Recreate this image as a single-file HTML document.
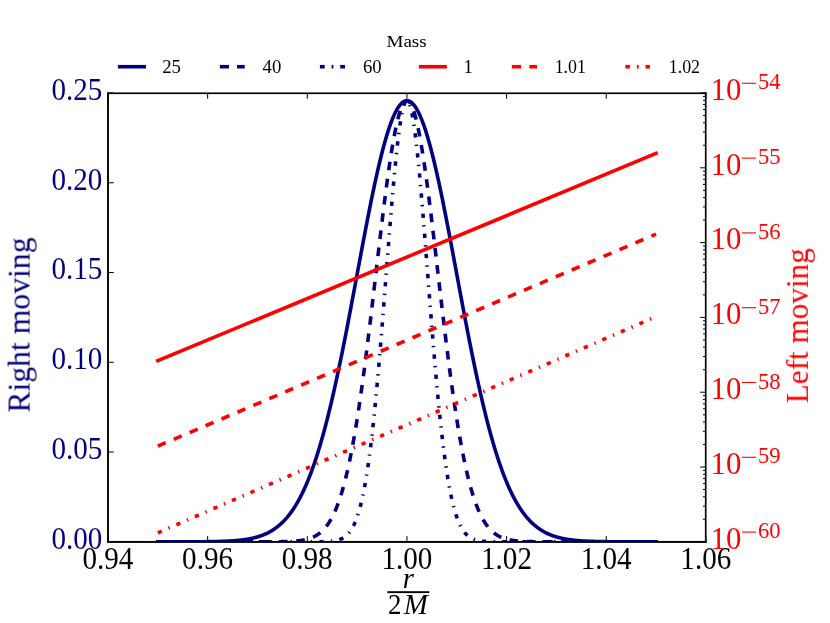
<!DOCTYPE html>
<html>
<head>
<meta charset="utf-8">
<title>Mass plot</title>
<style>
html,body{margin:0;padding:0;background:#ffffff;}
body{width:830px;height:623px;overflow:hidden;font-family:"Liberation Serif",serif;}
svg{display:block;}
</style>
</head>
<body>
<svg width="830" height="623" viewBox="0 0 830 623">
<rect x="0" y="0" width="830" height="623" fill="#ffffff"/>
<defs><clipPath id="axclip"><rect x="108.00" y="93.00" width="597.90" height="448.80"/></clipPath></defs>
<g clip-path="url(#axclip)" fill="none" stroke-linejoin="round">
<path d="M157.83,541.80 L158.32,541.80 L158.82,541.80 L159.32,541.80 L159.82,541.80 L160.32,541.80 L160.81,541.80 L161.31,541.80 L161.81,541.80 L162.31,541.80 L162.81,541.80 L163.31,541.80 L163.80,541.80 L164.30,541.80 L164.80,541.80 L165.30,541.80 L165.80,541.80 L166.30,541.80 L166.79,541.80 L167.29,541.80 L167.79,541.80 L168.29,541.80 L168.79,541.80 L169.28,541.79 L169.78,541.79 L170.28,541.79 L170.78,541.79 L171.28,541.79 L171.78,541.79 L172.27,541.79 L172.77,541.79 L173.27,541.79 L173.77,541.79 L174.27,541.79 L174.77,541.79 L175.26,541.79 L175.76,541.79 L176.26,541.79 L176.76,541.79 L177.26,541.79 L177.76,541.79 L178.25,541.79 L178.75,541.79 L179.25,541.79 L179.75,541.79 L180.25,541.79 L180.74,541.79 L181.24,541.78 L181.74,541.78 L182.24,541.78 L182.74,541.78 L183.24,541.78 L183.73,541.78 L184.23,541.78 L184.73,541.78 L185.23,541.78 L185.73,541.78 L186.23,541.78 L186.72,541.77 L187.22,541.77 L187.72,541.77 L188.22,541.77 L188.72,541.77 L189.21,541.77 L189.71,541.77 L190.21,541.77 L190.71,541.76 L191.21,541.76 L191.71,541.76 L192.20,541.76 L192.70,541.76 L193.20,541.76 L193.70,541.75 L194.20,541.75 L194.70,541.75 L195.19,541.75 L195.69,541.74 L196.19,541.74 L196.69,541.74 L197.19,541.74 L197.69,541.73 L198.18,541.73 L198.68,541.73 L199.18,541.73 L199.68,541.72 L200.18,541.72 L200.67,541.72 L201.17,541.71 L201.67,541.71 L202.17,541.71 L202.67,541.70 L203.17,541.70 L203.66,541.69 L204.16,541.69 L204.66,541.68 L205.16,541.68 L205.66,541.67 L206.16,541.67 L206.65,541.66 L207.15,541.66 L207.65,541.65 L208.15,541.65 L208.65,541.64 L209.14,541.63 L209.64,541.63 L210.14,541.62 L210.64,541.61 L211.14,541.60 L211.64,541.60 L212.13,541.59 L212.63,541.58 L213.13,541.57 L213.63,541.56 L214.13,541.55 L214.63,541.54 L215.12,541.53 L215.62,541.52 L216.12,541.51 L216.62,541.50 L217.12,541.49 L217.62,541.48 L218.11,541.46 L218.61,541.45 L219.11,541.44 L219.61,541.42 L220.11,541.41 L220.60,541.40 L221.10,541.38 L221.60,541.36 L222.10,541.35 L222.60,541.33 L223.10,541.31 L223.59,541.29 L224.09,541.28 L224.59,541.26 L225.09,541.24 L225.59,541.21 L226.09,541.19 L226.58,541.17 L227.08,541.15 L227.58,541.12 L228.08,541.10 L228.58,541.07 L229.07,541.05 L229.57,541.02 L230.07,540.99 L230.57,540.96 L231.07,540.93 L231.57,540.90 L232.06,540.87 L232.56,540.84 L233.06,540.80 L233.56,540.77 L234.06,540.73 L234.56,540.69 L235.05,540.65 L235.55,540.61 L236.05,540.57 L236.55,540.53 L237.05,540.48 L237.55,540.44 L238.04,540.39 L238.54,540.34 L239.04,540.29 L239.54,540.24 L240.04,540.19 L240.53,540.13 L241.03,540.08 L241.53,540.02 L242.03,539.96 L242.53,539.90 L243.03,539.83 L243.52,539.77 L244.02,539.70 L244.52,539.63 L245.02,539.56 L245.52,539.48 L246.02,539.41 L246.51,539.33 L247.01,539.25 L247.51,539.16 L248.01,539.08 L248.51,538.99 L249.00,538.90 L249.50,538.81 L250.00,538.71 L250.50,538.61 L251.00,538.51 L251.50,538.41 L251.99,538.30 L252.49,538.19 L252.99,538.07 L253.49,537.96 L253.99,537.84 L254.49,537.71 L254.98,537.59 L255.48,537.46 L255.98,537.32 L256.48,537.19 L256.98,537.04 L257.48,536.90 L257.97,536.75 L258.47,536.60 L258.97,536.44 L259.47,536.28 L259.97,536.11 L260.46,535.94 L260.96,535.77 L261.46,535.59 L261.96,535.41 L262.46,535.22 L262.96,535.03 L263.45,534.83 L263.95,534.62 L264.45,534.41 L264.95,534.20 L265.45,533.98 L265.95,533.76 L266.44,533.53 L266.94,533.29 L267.44,533.05 L267.94,532.80 L268.44,532.55 L268.93,532.29 L269.43,532.02 L269.93,531.75 L270.43,531.47 L270.93,531.18 L271.43,530.89 L271.92,530.59 L272.42,530.28 L272.92,529.96 L273.42,529.64 L273.92,529.31 L274.42,528.97 L274.91,528.63 L275.41,528.28 L275.91,527.91 L276.41,527.55 L276.91,527.17 L277.41,526.78 L277.90,526.39 L278.40,525.98 L278.90,525.57 L279.40,525.15 L279.90,524.72 L280.39,524.28 L280.89,523.83 L281.39,523.37 L281.89,522.90 L282.39,522.42 L282.89,521.93 L283.38,521.43 L283.88,520.92 L284.38,520.40 L284.88,519.87 L285.38,519.32 L285.88,518.77 L286.37,518.20 L286.87,517.63 L287.37,517.04 L287.87,516.44 L288.37,515.83 L288.86,515.20 L289.36,514.57 L289.86,513.92 L290.36,513.26 L290.86,512.58 L291.36,511.89 L291.85,511.19 L292.35,510.48 L292.85,509.75 L293.35,509.01 L293.85,508.26 L294.35,507.49 L294.84,506.71 L295.34,505.91 L295.84,505.10 L296.34,504.27 L296.84,503.43 L297.34,502.58 L297.83,501.71 L298.33,500.82 L298.83,499.92 L299.33,499.00 L299.83,498.07 L300.32,497.12 L300.82,496.16 L301.32,495.18 L301.82,494.18 L302.32,493.17 L302.82,492.14 L303.31,491.09 L303.81,490.03 L304.31,488.95 L304.81,487.85 L305.31,486.74 L305.81,485.61 L306.30,484.46 L306.80,483.29 L307.30,482.10 L307.80,480.90 L308.30,479.68 L308.79,478.44 L309.29,477.18 L309.79,475.91 L310.29,474.61 L310.79,473.30 L311.29,471.97 L311.78,470.62 L312.28,469.25 L312.78,467.86 L313.28,466.46 L313.78,465.03 L314.28,463.58 L314.77,462.12 L315.27,460.64 L315.77,459.13 L316.27,457.61 L316.77,456.07 L317.27,454.51 L317.76,452.93 L318.26,451.33 L318.76,449.70 L319.26,448.07 L319.76,446.41 L320.25,444.73 L320.75,443.03 L321.25,441.31 L321.75,439.57 L322.25,437.81 L322.75,436.03 L323.24,434.24 L323.74,432.42 L324.24,430.58 L324.74,428.73 L325.24,426.85 L325.74,424.96 L326.23,423.04 L326.73,421.11 L327.23,419.16 L327.73,417.19 L328.23,415.20 L328.72,413.19 L329.22,411.16 L329.72,409.11 L330.22,407.04 L330.72,404.96 L331.22,402.86 L331.71,400.73 L332.21,398.60 L332.71,396.44 L333.21,394.26 L333.71,392.07 L334.21,389.86 L334.70,387.64 L335.20,385.39 L335.70,383.13 L336.20,380.85 L336.70,378.56 L337.20,376.25 L337.69,373.92 L338.19,371.58 L338.69,369.23 L339.19,366.86 L339.69,364.47 L340.18,362.07 L340.68,359.65 L341.18,357.22 L341.68,354.78 L342.18,352.32 L342.68,349.85 L343.17,347.37 L343.67,344.88 L344.17,342.37 L344.67,339.85 L345.17,337.32 L345.67,334.78 L346.16,332.23 L346.66,329.67 L347.16,327.09 L347.66,324.51 L348.16,321.92 L348.65,319.32 L349.15,316.72 L349.65,314.10 L350.15,311.48 L350.65,308.85 L351.15,306.22 L351.64,303.57 L352.14,300.93 L352.64,298.27 L353.14,295.62 L353.64,292.96 L354.14,290.29 L354.63,287.63 L355.13,284.96 L355.63,282.28 L356.13,279.61 L356.63,276.93 L357.13,274.26 L357.62,271.58 L358.12,268.91 L358.62,266.24 L359.12,263.56 L359.62,260.89 L360.11,258.23 L360.61,255.56 L361.11,252.90 L361.61,250.25 L362.11,247.60 L362.61,244.95 L363.10,242.31 L363.60,239.68 L364.10,237.06 L364.60,234.44 L365.10,231.83 L365.60,229.23 L366.09,226.64 L366.59,224.06 L367.09,221.50 L367.59,218.94 L368.09,216.39 L368.58,213.86 L369.08,211.34 L369.58,208.84 L370.08,206.35 L370.58,203.88 L371.08,201.42 L371.57,198.97 L372.07,196.55 L372.57,194.14 L373.07,191.75 L373.57,189.38 L374.07,187.03 L374.56,184.70 L375.06,182.39 L375.56,180.10 L376.06,177.83 L376.56,175.58 L377.06,173.36 L377.55,171.16 L378.05,168.99 L378.55,166.84 L379.05,164.71 L379.55,162.62 L380.04,160.54 L380.54,158.50 L381.04,156.48 L381.54,154.49 L382.04,152.53 L382.54,150.60 L383.03,148.70 L383.53,146.83 L384.03,144.98 L384.53,143.17 L385.03,141.40 L385.53,139.65 L386.02,137.94 L386.52,136.26 L387.02,134.61 L387.52,133.00 L388.02,131.42 L388.51,129.88 L389.01,128.38 L389.51,126.91 L390.01,125.47 L390.51,124.08 L391.01,122.72 L391.50,121.39 L392.00,120.11 L392.50,118.86 L393.00,117.66 L393.50,116.49 L394.00,115.36 L394.49,114.27 L394.99,113.22 L395.49,112.21 L395.99,111.25 L396.49,110.32 L396.99,109.43 L397.48,108.59 L397.98,107.79 L398.48,107.03 L398.98,106.31 L399.48,105.63 L399.97,105.00 L400.47,104.41 L400.97,103.86 L401.47,103.36 L401.97,102.90 L402.47,102.48 L402.96,102.11 L403.46,101.78 L403.96,101.49 L404.46,101.25 L404.96,101.05 L405.46,100.90 L405.95,100.79 L406.45,100.72 L406.95,100.70 L407.45,100.72 L407.95,100.79 L408.44,100.90 L408.94,101.05 L409.44,101.25 L409.94,101.49 L410.44,101.78 L410.94,102.11 L411.43,102.48 L411.93,102.90 L412.43,103.36 L412.93,103.86 L413.43,104.41 L413.93,105.00 L414.42,105.63 L414.92,106.31 L415.42,107.03 L415.92,107.79 L416.42,108.59 L416.92,109.43 L417.41,110.32 L417.91,111.25 L418.41,112.21 L418.91,113.22 L419.41,114.27 L419.90,115.36 L420.40,116.49 L420.90,117.66 L421.40,118.86 L421.90,120.11 L422.40,121.39 L422.89,122.72 L423.39,124.08 L423.89,125.47 L424.39,126.91 L424.89,128.38 L425.39,129.88 L425.88,131.42 L426.38,133.00 L426.88,134.61 L427.38,136.26 L427.88,137.94 L428.37,139.65 L428.87,141.40 L429.37,143.17 L429.87,144.98 L430.37,146.83 L430.87,148.70 L431.36,150.60 L431.86,152.53 L432.36,154.49 L432.86,156.48 L433.36,158.50 L433.86,160.54 L434.35,162.62 L434.85,164.71 L435.35,166.84 L435.85,168.99 L436.35,171.16 L436.85,173.36 L437.34,175.58 L437.84,177.83 L438.34,180.10 L438.84,182.39 L439.34,184.70 L439.83,187.03 L440.33,189.38 L440.83,191.75 L441.33,194.14 L441.83,196.55 L442.33,198.97 L442.82,201.42 L443.32,203.88 L443.82,206.35 L444.32,208.84 L444.82,211.34 L445.32,213.86 L445.81,216.39 L446.31,218.94 L446.81,221.50 L447.31,224.06 L447.81,226.64 L448.30,229.23 L448.80,231.83 L449.30,234.44 L449.80,237.06 L450.30,239.68 L450.80,242.31 L451.29,244.95 L451.79,247.60 L452.29,250.25 L452.79,252.90 L453.29,255.56 L453.79,258.23 L454.28,260.89 L454.78,263.56 L455.28,266.24 L455.78,268.91 L456.28,271.58 L456.78,274.26 L457.27,276.93 L457.77,279.61 L458.27,282.28 L458.77,284.96 L459.27,287.63 L459.76,290.29 L460.26,292.96 L460.76,295.62 L461.26,298.27 L461.76,300.93 L462.26,303.57 L462.75,306.22 L463.25,308.85 L463.75,311.48 L464.25,314.10 L464.75,316.72 L465.25,319.32 L465.74,321.92 L466.24,324.51 L466.74,327.09 L467.24,329.67 L467.74,332.23 L468.23,334.78 L468.73,337.32 L469.23,339.85 L469.73,342.37 L470.23,344.88 L470.73,347.37 L471.22,349.85 L471.72,352.32 L472.22,354.78 L472.72,357.22 L473.22,359.65 L473.72,362.07 L474.21,364.47 L474.71,366.86 L475.21,369.23 L475.71,371.58 L476.21,373.92 L476.71,376.25 L477.20,378.56 L477.70,380.85 L478.20,383.13 L478.70,385.39 L479.20,387.64 L479.69,389.86 L480.19,392.07 L480.69,394.26 L481.19,396.44 L481.69,398.60 L482.19,400.73 L482.68,402.86 L483.18,404.96 L483.68,407.04 L484.18,409.11 L484.68,411.16 L485.18,413.19 L485.67,415.20 L486.17,417.19 L486.67,419.16 L487.17,421.11 L487.67,423.04 L488.16,424.96 L488.66,426.85 L489.16,428.73 L489.66,430.58 L490.16,432.42 L490.66,434.24 L491.15,436.03 L491.65,437.81 L492.15,439.57 L492.65,441.31 L493.15,443.03 L493.65,444.73 L494.14,446.41 L494.64,448.07 L495.14,449.70 L495.64,451.33 L496.14,452.93 L496.64,454.51 L497.13,456.07 L497.63,457.61 L498.13,459.13 L498.63,460.64 L499.13,462.12 L499.62,463.58 L500.12,465.03 L500.62,466.46 L501.12,467.86 L501.62,469.25 L502.12,470.62 L502.61,471.97 L503.11,473.30 L503.61,474.61 L504.11,475.91 L504.61,477.18 L505.11,478.44 L505.60,479.68 L506.10,480.90 L506.60,482.10 L507.10,483.29 L507.60,484.46 L508.09,485.61 L508.59,486.74 L509.09,487.85 L509.59,488.95 L510.09,490.03 L510.59,491.09 L511.08,492.14 L511.58,493.17 L512.08,494.18 L512.58,495.18 L513.08,496.16 L513.58,497.12 L514.07,498.07 L514.57,499.00 L515.07,499.92 L515.57,500.82 L516.07,501.71 L516.57,502.58 L517.06,503.43 L517.56,504.27 L518.06,505.10 L518.56,505.91 L519.06,506.71 L519.55,507.49 L520.05,508.26 L520.55,509.01 L521.05,509.75 L521.55,510.48 L522.05,511.19 L522.54,511.89 L523.04,512.58 L523.54,513.26 L524.04,513.92 L524.54,514.57 L525.04,515.20 L525.53,515.83 L526.03,516.44 L526.53,517.04 L527.03,517.63 L527.53,518.20 L528.02,518.77 L528.52,519.32 L529.02,519.87 L529.52,520.40 L530.02,520.92 L530.52,521.43 L531.01,521.93 L531.51,522.42 L532.01,522.90 L532.51,523.37 L533.01,523.83 L533.51,524.28 L534.00,524.72 L534.50,525.15 L535.00,525.57 L535.50,525.98 L536.00,526.39 L536.50,526.78 L536.99,527.17 L537.49,527.55 L537.99,527.91 L538.49,528.28 L538.99,528.63 L539.48,528.97 L539.98,529.31 L540.48,529.64 L540.98,529.96 L541.48,530.28 L541.98,530.59 L542.47,530.89 L542.97,531.18 L543.47,531.47 L543.97,531.75 L544.47,532.02 L544.97,532.29 L545.46,532.55 L545.96,532.80 L546.46,533.05 L546.96,533.29 L547.46,533.53 L547.95,533.76 L548.45,533.98 L548.95,534.20 L549.45,534.41 L549.95,534.62 L550.45,534.83 L550.94,535.03 L551.44,535.22 L551.94,535.41 L552.44,535.59 L552.94,535.77 L553.44,535.94 L553.93,536.11 L554.43,536.28 L554.93,536.44 L555.43,536.60 L555.93,536.75 L556.43,536.90 L556.92,537.04 L557.42,537.19 L557.92,537.32 L558.42,537.46 L558.92,537.59 L559.41,537.71 L559.91,537.84 L560.41,537.96 L560.91,538.07 L561.41,538.19 L561.91,538.30 L562.40,538.41 L562.90,538.51 L563.40,538.61 L563.90,538.71 L564.40,538.81 L564.90,538.90 L565.39,538.99 L565.89,539.08 L566.39,539.16 L566.89,539.25 L567.39,539.33 L567.88,539.41 L568.38,539.48 L568.88,539.56 L569.38,539.63 L569.88,539.70 L570.38,539.77 L570.87,539.83 L571.37,539.90 L571.87,539.96 L572.37,540.02 L572.87,540.08 L573.37,540.13 L573.86,540.19 L574.36,540.24 L574.86,540.29 L575.36,540.34 L575.86,540.39 L576.36,540.44 L576.85,540.48 L577.35,540.53 L577.85,540.57 L578.35,540.61 L578.85,540.65 L579.34,540.69 L579.84,540.73 L580.34,540.77 L580.84,540.80 L581.34,540.84 L581.84,540.87 L582.33,540.90 L582.83,540.93 L583.33,540.96 L583.83,540.99 L584.33,541.02 L584.83,541.05 L585.32,541.07 L585.82,541.10 L586.32,541.12 L586.82,541.15 L587.32,541.17 L587.81,541.19 L588.31,541.21 L588.81,541.24 L589.31,541.26 L589.81,541.28 L590.31,541.29 L590.80,541.31 L591.30,541.33 L591.80,541.35 L592.30,541.36 L592.80,541.38 L593.30,541.40 L593.79,541.41 L594.29,541.42 L594.79,541.44 L595.29,541.45 L595.79,541.46 L596.29,541.48 L596.78,541.49 L597.28,541.50 L597.78,541.51 L598.28,541.52 L598.78,541.53 L599.27,541.54 L599.77,541.55 L600.27,541.56 L600.77,541.57 L601.27,541.58 L601.77,541.59 L602.26,541.60 L602.76,541.60 L603.26,541.61 L603.76,541.62 L604.26,541.63 L604.76,541.63 L605.25,541.64 L605.75,541.65 L606.25,541.65 L606.75,541.66 L607.25,541.66 L607.74,541.67 L608.24,541.67 L608.74,541.68 L609.24,541.68 L609.74,541.69 L610.24,541.69 L610.73,541.70 L611.23,541.70 L611.73,541.71 L612.23,541.71 L612.73,541.71 L613.23,541.72 L613.72,541.72 L614.22,541.72 L614.72,541.73 L615.22,541.73 L615.72,541.73 L616.22,541.73 L616.71,541.74 L617.21,541.74 L617.71,541.74 L618.21,541.74 L618.71,541.75 L619.20,541.75 L619.70,541.75 L620.20,541.75 L620.70,541.76 L621.20,541.76 L621.70,541.76 L622.19,541.76 L622.69,541.76 L623.19,541.76 L623.69,541.77 L624.19,541.77 L624.69,541.77 L625.18,541.77 L625.68,541.77 L626.18,541.77 L626.68,541.77 L627.18,541.77 L627.67,541.78 L628.17,541.78 L628.67,541.78 L629.17,541.78 L629.67,541.78 L630.17,541.78 L630.66,541.78 L631.16,541.78 L631.66,541.78 L632.16,541.78 L632.66,541.78 L633.16,541.79 L633.65,541.79 L634.15,541.79 L634.65,541.79 L635.15,541.79 L635.65,541.79 L636.15,541.79 L636.64,541.79 L637.14,541.79 L637.64,541.79 L638.14,541.79 L638.64,541.79 L639.13,541.79 L639.63,541.79 L640.13,541.79 L640.63,541.79 L641.13,541.79 L641.63,541.79 L642.12,541.79 L642.62,541.79 L643.12,541.79 L643.62,541.79 L644.12,541.79 L644.62,541.79 L645.11,541.80 L645.61,541.80 L646.11,541.80 L646.61,541.80 L647.11,541.80 L647.60,541.80 L648.10,541.80 L648.60,541.80 L649.10,541.80 L649.60,541.80 L650.10,541.80 L650.59,541.80 L651.09,541.80 L651.59,541.80 L652.09,541.80 L652.59,541.80 L653.09,541.80 L653.58,541.80 L654.08,541.80 L654.58,541.80 L655.08,541.80 L655.58,541.80 L656.08,541.80" stroke="#000080" stroke-width="3.60" stroke-linecap="square"/>
<path d="M157.83,541.80 L158.32,541.80 L158.82,541.80 L159.32,541.80 L159.82,541.80 L160.32,541.80 L160.81,541.80 L161.31,541.80 L161.81,541.80 L162.31,541.80 L162.81,541.80 L163.31,541.80 L163.80,541.80 L164.30,541.80 L164.80,541.80 L165.30,541.80 L165.80,541.80 L166.30,541.80 L166.79,541.80 L167.29,541.80 L167.79,541.80 L168.29,541.80 L168.79,541.80 L169.28,541.80 L169.78,541.80 L170.28,541.80 L170.78,541.80 L171.28,541.80 L171.78,541.80 L172.27,541.80 L172.77,541.80 L173.27,541.80 L173.77,541.80 L174.27,541.80 L174.77,541.80 L175.26,541.80 L175.76,541.80 L176.26,541.80 L176.76,541.80 L177.26,541.80 L177.76,541.80 L178.25,541.80 L178.75,541.80 L179.25,541.80 L179.75,541.80 L180.25,541.80 L180.74,541.80 L181.24,541.80 L181.74,541.80 L182.24,541.80 L182.74,541.80 L183.24,541.80 L183.73,541.80 L184.23,541.80 L184.73,541.80 L185.23,541.80 L185.73,541.80 L186.23,541.80 L186.72,541.80 L187.22,541.80 L187.72,541.80 L188.22,541.80 L188.72,541.80 L189.21,541.80 L189.71,541.80 L190.21,541.80 L190.71,541.80 L191.21,541.80 L191.71,541.80 L192.20,541.80 L192.70,541.80 L193.20,541.80 L193.70,541.80 L194.20,541.80 L194.70,541.80 L195.19,541.80 L195.69,541.80 L196.19,541.80 L196.69,541.80 L197.19,541.80 L197.69,541.80 L198.18,541.80 L198.68,541.80 L199.18,541.80 L199.68,541.80 L200.18,541.80 L200.67,541.80 L201.17,541.80 L201.67,541.80 L202.17,541.80 L202.67,541.80 L203.17,541.80 L203.66,541.80 L204.16,541.80 L204.66,541.80 L205.16,541.80 L205.66,541.80 L206.16,541.80 L206.65,541.80 L207.15,541.80 L207.65,541.80 L208.15,541.80 L208.65,541.80 L209.14,541.80 L209.64,541.80 L210.14,541.80 L210.64,541.80 L211.14,541.80 L211.64,541.80 L212.13,541.80 L212.63,541.80 L213.13,541.80 L213.63,541.80 L214.13,541.80 L214.63,541.80 L215.12,541.80 L215.62,541.80 L216.12,541.80 L216.62,541.80 L217.12,541.80 L217.62,541.80 L218.11,541.80 L218.61,541.80 L219.11,541.80 L219.61,541.80 L220.11,541.80 L220.60,541.80 L221.10,541.80 L221.60,541.80 L222.10,541.80 L222.60,541.80 L223.10,541.80 L223.59,541.80 L224.09,541.80 L224.59,541.80 L225.09,541.80 L225.59,541.80 L226.09,541.80 L226.58,541.80 L227.08,541.80 L227.58,541.80 L228.08,541.80 L228.58,541.80 L229.07,541.80 L229.57,541.80 L230.07,541.80 L230.57,541.80 L231.07,541.80 L231.57,541.80 L232.06,541.80 L232.56,541.80 L233.06,541.80 L233.56,541.80 L234.06,541.80 L234.56,541.80 L235.05,541.80 L235.55,541.80 L236.05,541.80 L236.55,541.80 L237.05,541.80 L237.55,541.80 L238.04,541.80 L238.54,541.80 L239.04,541.80 L239.54,541.80 L240.04,541.80 L240.53,541.80 L241.03,541.80 L241.53,541.80 L242.03,541.80 L242.53,541.80 L243.03,541.80 L243.52,541.80 L244.02,541.80 L244.52,541.80 L245.02,541.80 L245.52,541.80 L246.02,541.80 L246.51,541.80 L247.01,541.80 L247.51,541.80 L248.01,541.80 L248.51,541.80 L249.00,541.80 L249.50,541.80 L250.00,541.80 L250.50,541.80 L251.00,541.80 L251.50,541.80 L251.99,541.80 L252.49,541.80 L252.99,541.80 L253.49,541.80 L253.99,541.80 L254.49,541.80 L254.98,541.80 L255.48,541.80 L255.98,541.80 L256.48,541.80 L256.98,541.80 L257.48,541.80 L257.97,541.80 L258.47,541.79 L258.97,541.79 L259.47,541.79 L259.97,541.79 L260.46,541.79 L260.96,541.79 L261.46,541.79 L261.96,541.79 L262.46,541.79 L262.96,541.79 L263.45,541.79 L263.95,541.79 L264.45,541.79 L264.95,541.79 L265.45,541.79 L265.95,541.78 L266.44,541.78 L266.94,541.78 L267.44,541.78 L267.94,541.78 L268.44,541.78 L268.93,541.78 L269.43,541.77 L269.93,541.77 L270.43,541.77 L270.93,541.77 L271.43,541.77 L271.92,541.76 L272.42,541.76 L272.92,541.76 L273.42,541.76 L273.92,541.75 L274.42,541.75 L274.91,541.74 L275.41,541.74 L275.91,541.74 L276.41,541.73 L276.91,541.73 L277.41,541.72 L277.90,541.72 L278.40,541.71 L278.90,541.71 L279.40,541.70 L279.90,541.69 L280.39,541.69 L280.89,541.68 L281.39,541.67 L281.89,541.66 L282.39,541.65 L282.89,541.64 L283.38,541.63 L283.88,541.62 L284.38,541.61 L284.88,541.60 L285.38,541.58 L285.88,541.57 L286.37,541.56 L286.87,541.54 L287.37,541.52 L287.87,541.51 L288.37,541.49 L288.86,541.47 L289.36,541.45 L289.86,541.42 L290.36,541.40 L290.86,541.38 L291.36,541.35 L291.85,541.32 L292.35,541.29 L292.85,541.26 L293.35,541.23 L293.85,541.20 L294.35,541.16 L294.84,541.12 L295.34,541.08 L295.84,541.04 L296.34,541.00 L296.84,540.95 L297.34,540.90 L297.83,540.85 L298.33,540.79 L298.83,540.74 L299.33,540.68 L299.83,540.61 L300.32,540.54 L300.82,540.47 L301.32,540.40 L301.82,540.32 L302.32,540.24 L302.82,540.15 L303.31,540.06 L303.81,539.97 L304.31,539.87 L304.81,539.77 L305.31,539.66 L305.81,539.54 L306.30,539.42 L306.80,539.30 L307.30,539.16 L307.80,539.03 L308.30,538.88 L308.79,538.73 L309.29,538.57 L309.79,538.41 L310.29,538.23 L310.79,538.05 L311.29,537.86 L311.78,537.66 L312.28,537.46 L312.78,537.24 L313.28,537.02 L313.78,536.78 L314.28,536.54 L314.77,536.28 L315.27,536.01 L315.77,535.73 L316.27,535.44 L316.77,535.14 L317.27,534.83 L317.76,534.50 L318.26,534.16 L318.76,533.80 L319.26,533.43 L319.76,533.05 L320.25,532.65 L320.75,532.23 L321.25,531.80 L321.75,531.35 L322.25,530.89 L322.75,530.40 L323.24,529.90 L323.74,529.38 L324.24,528.84 L324.74,528.28 L325.24,527.69 L325.74,527.09 L326.23,526.47 L326.73,525.82 L327.23,525.15 L327.73,524.46 L328.23,523.74 L328.72,522.99 L329.22,522.22 L329.72,521.43 L330.22,520.61 L330.72,519.76 L331.22,518.88 L331.71,517.97 L332.21,517.04 L332.71,516.07 L333.21,515.08 L333.71,514.05 L334.21,512.99 L334.70,511.89 L335.20,510.77 L335.70,509.61 L336.20,508.41 L336.70,507.18 L337.20,505.91 L337.69,504.60 L338.19,503.26 L338.69,501.88 L339.19,500.46 L339.69,499.00 L340.18,497.50 L340.68,495.96 L341.18,494.38 L341.68,492.76 L342.18,491.09 L342.68,489.38 L343.17,487.63 L343.67,485.83 L344.17,483.99 L344.67,482.10 L345.17,480.17 L345.67,478.19 L346.16,476.16 L346.66,474.09 L347.16,471.97 L347.66,469.80 L348.16,467.58 L348.65,465.32 L349.15,463.00 L349.65,460.64 L350.15,458.22 L350.65,455.76 L351.15,453.24 L351.64,450.68 L352.14,448.07 L352.64,445.40 L353.14,442.69 L353.64,439.92 L354.14,437.10 L354.63,434.24 L355.13,431.32 L355.63,428.35 L356.13,425.34 L356.63,422.27 L357.13,419.16 L357.62,415.99 L358.12,412.78 L358.62,409.52 L359.12,406.21 L359.62,402.86 L360.11,399.45 L360.61,396.01 L361.11,392.51 L361.61,388.97 L362.11,385.39 L362.61,381.77 L363.10,378.10 L363.60,374.39 L364.10,370.64 L364.60,366.86 L365.10,363.03 L365.60,359.17 L366.09,355.27 L366.59,351.34 L367.09,347.37 L367.59,343.37 L368.09,339.34 L368.58,335.29 L369.08,331.20 L369.58,327.09 L370.08,322.96 L370.58,318.80 L371.08,314.63 L371.57,310.43 L372.07,306.22 L372.57,301.99 L373.07,297.74 L373.57,293.49 L374.07,289.23 L374.56,284.96 L375.06,280.68 L375.56,276.40 L376.06,272.12 L376.56,267.84 L377.06,263.56 L377.55,259.29 L378.05,255.03 L378.55,250.78 L379.05,246.54 L379.55,242.31 L380.04,238.11 L380.54,233.92 L381.04,229.75 L381.54,225.61 L382.04,221.50 L382.54,217.41 L383.03,213.36 L383.53,209.34 L384.03,205.36 L384.53,201.42 L385.03,197.52 L385.53,193.66 L386.02,189.85 L386.52,186.09 L387.02,182.39 L387.52,178.73 L388.02,175.14 L388.51,171.60 L389.01,168.13 L389.51,164.71 L390.01,161.37 L390.51,158.09 L391.01,154.89 L391.50,151.75 L392.00,148.70 L392.50,145.72 L393.00,142.82 L393.50,140.00 L394.00,137.26 L394.49,134.61 L394.99,132.05 L395.49,129.58 L395.99,127.20 L396.49,124.91 L396.99,122.72 L397.48,120.62 L397.98,118.62 L398.48,116.72 L398.98,114.92 L399.48,113.22 L399.97,111.63 L400.47,110.14 L400.97,108.76 L401.47,107.48 L401.97,106.31 L402.47,105.25 L402.96,104.30 L403.46,103.46 L403.96,102.73 L404.46,102.11 L404.96,101.60 L405.46,101.21 L405.95,100.93 L406.45,100.76 L406.95,100.70 L407.45,100.76 L407.95,100.93 L408.44,101.21 L408.94,101.60 L409.44,102.11 L409.94,102.73 L410.44,103.46 L410.94,104.30 L411.43,105.25 L411.93,106.31 L412.43,107.48 L412.93,108.76 L413.43,110.14 L413.93,111.63 L414.42,113.22 L414.92,114.92 L415.42,116.72 L415.92,118.62 L416.42,120.62 L416.92,122.72 L417.41,124.91 L417.91,127.20 L418.41,129.58 L418.91,132.05 L419.41,134.61 L419.90,137.26 L420.40,140.00 L420.90,142.82 L421.40,145.72 L421.90,148.70 L422.40,151.75 L422.89,154.89 L423.39,158.09 L423.89,161.37 L424.39,164.71 L424.89,168.13 L425.39,171.60 L425.88,175.14 L426.38,178.73 L426.88,182.39 L427.38,186.09 L427.88,189.85 L428.37,193.66 L428.87,197.52 L429.37,201.42 L429.87,205.36 L430.37,209.34 L430.87,213.36 L431.36,217.41 L431.86,221.50 L432.36,225.61 L432.86,229.75 L433.36,233.92 L433.86,238.11 L434.35,242.31 L434.85,246.54 L435.35,250.78 L435.85,255.03 L436.35,259.29 L436.85,263.56 L437.34,267.84 L437.84,272.12 L438.34,276.40 L438.84,280.68 L439.34,284.96 L439.83,289.23 L440.33,293.49 L440.83,297.74 L441.33,301.99 L441.83,306.22 L442.33,310.43 L442.82,314.63 L443.32,318.80 L443.82,322.96 L444.32,327.09 L444.82,331.20 L445.32,335.29 L445.81,339.34 L446.31,343.37 L446.81,347.37 L447.31,351.34 L447.81,355.27 L448.30,359.17 L448.80,363.03 L449.30,366.86 L449.80,370.64 L450.30,374.39 L450.80,378.10 L451.29,381.77 L451.79,385.39 L452.29,388.97 L452.79,392.51 L453.29,396.01 L453.79,399.45 L454.28,402.86 L454.78,406.21 L455.28,409.52 L455.78,412.78 L456.28,415.99 L456.78,419.16 L457.27,422.27 L457.77,425.34 L458.27,428.35 L458.77,431.32 L459.27,434.24 L459.76,437.10 L460.26,439.92 L460.76,442.69 L461.26,445.40 L461.76,448.07 L462.26,450.68 L462.75,453.24 L463.25,455.76 L463.75,458.22 L464.25,460.64 L464.75,463.00 L465.25,465.32 L465.74,467.58 L466.24,469.80 L466.74,471.97 L467.24,474.09 L467.74,476.16 L468.23,478.19 L468.73,480.17 L469.23,482.10 L469.73,483.99 L470.23,485.83 L470.73,487.63 L471.22,489.38 L471.72,491.09 L472.22,492.76 L472.72,494.38 L473.22,495.96 L473.72,497.50 L474.21,499.00 L474.71,500.46 L475.21,501.88 L475.71,503.26 L476.21,504.60 L476.71,505.91 L477.20,507.18 L477.70,508.41 L478.20,509.61 L478.70,510.77 L479.20,511.89 L479.69,512.99 L480.19,514.05 L480.69,515.08 L481.19,516.07 L481.69,517.04 L482.19,517.97 L482.68,518.88 L483.18,519.76 L483.68,520.61 L484.18,521.43 L484.68,522.22 L485.18,522.99 L485.67,523.74 L486.17,524.46 L486.67,525.15 L487.17,525.82 L487.67,526.47 L488.16,527.09 L488.66,527.69 L489.16,528.28 L489.66,528.84 L490.16,529.38 L490.66,529.90 L491.15,530.40 L491.65,530.89 L492.15,531.35 L492.65,531.80 L493.15,532.23 L493.65,532.65 L494.14,533.05 L494.64,533.43 L495.14,533.80 L495.64,534.16 L496.14,534.50 L496.64,534.83 L497.13,535.14 L497.63,535.44 L498.13,535.73 L498.63,536.01 L499.13,536.28 L499.62,536.54 L500.12,536.78 L500.62,537.02 L501.12,537.24 L501.62,537.46 L502.12,537.66 L502.61,537.86 L503.11,538.05 L503.61,538.23 L504.11,538.41 L504.61,538.57 L505.11,538.73 L505.60,538.88 L506.10,539.03 L506.60,539.16 L507.10,539.30 L507.60,539.42 L508.09,539.54 L508.59,539.66 L509.09,539.77 L509.59,539.87 L510.09,539.97 L510.59,540.06 L511.08,540.15 L511.58,540.24 L512.08,540.32 L512.58,540.40 L513.08,540.47 L513.58,540.54 L514.07,540.61 L514.57,540.68 L515.07,540.74 L515.57,540.79 L516.07,540.85 L516.57,540.90 L517.06,540.95 L517.56,541.00 L518.06,541.04 L518.56,541.08 L519.06,541.12 L519.55,541.16 L520.05,541.20 L520.55,541.23 L521.05,541.26 L521.55,541.29 L522.05,541.32 L522.54,541.35 L523.04,541.38 L523.54,541.40 L524.04,541.42 L524.54,541.45 L525.04,541.47 L525.53,541.49 L526.03,541.51 L526.53,541.52 L527.03,541.54 L527.53,541.56 L528.02,541.57 L528.52,541.58 L529.02,541.60 L529.52,541.61 L530.02,541.62 L530.52,541.63 L531.01,541.64 L531.51,541.65 L532.01,541.66 L532.51,541.67 L533.01,541.68 L533.51,541.69 L534.00,541.69 L534.50,541.70 L535.00,541.71 L535.50,541.71 L536.00,541.72 L536.50,541.72 L536.99,541.73 L537.49,541.73 L537.99,541.74 L538.49,541.74 L538.99,541.74 L539.48,541.75 L539.98,541.75 L540.48,541.76 L540.98,541.76 L541.48,541.76 L541.98,541.76 L542.47,541.77 L542.97,541.77 L543.47,541.77 L543.97,541.77 L544.47,541.77 L544.97,541.78 L545.46,541.78 L545.96,541.78 L546.46,541.78 L546.96,541.78 L547.46,541.78 L547.95,541.78 L548.45,541.79 L548.95,541.79 L549.45,541.79 L549.95,541.79 L550.45,541.79 L550.94,541.79 L551.44,541.79 L551.94,541.79 L552.44,541.79 L552.94,541.79 L553.44,541.79 L553.93,541.79 L554.43,541.79 L554.93,541.79 L555.43,541.79 L555.93,541.80 L556.43,541.80 L556.92,541.80 L557.42,541.80 L557.92,541.80 L558.42,541.80 L558.92,541.80 L559.41,541.80 L559.91,541.80 L560.41,541.80 L560.91,541.80 L561.41,541.80 L561.91,541.80 L562.40,541.80 L562.90,541.80 L563.40,541.80 L563.90,541.80 L564.40,541.80 L564.90,541.80 L565.39,541.80 L565.89,541.80 L566.39,541.80 L566.89,541.80 L567.39,541.80 L567.88,541.80 L568.38,541.80 L568.88,541.80 L569.38,541.80 L569.88,541.80 L570.38,541.80 L570.87,541.80 L571.37,541.80 L571.87,541.80 L572.37,541.80 L572.87,541.80 L573.37,541.80 L573.86,541.80 L574.36,541.80 L574.86,541.80 L575.36,541.80 L575.86,541.80 L576.36,541.80 L576.85,541.80 L577.35,541.80 L577.85,541.80 L578.35,541.80 L578.85,541.80 L579.34,541.80 L579.84,541.80 L580.34,541.80 L580.84,541.80 L581.34,541.80 L581.84,541.80 L582.33,541.80 L582.83,541.80 L583.33,541.80 L583.83,541.80 L584.33,541.80 L584.83,541.80 L585.32,541.80 L585.82,541.80 L586.32,541.80 L586.82,541.80 L587.32,541.80 L587.81,541.80 L588.31,541.80 L588.81,541.80 L589.31,541.80 L589.81,541.80 L590.31,541.80 L590.80,541.80 L591.30,541.80 L591.80,541.80 L592.30,541.80 L592.80,541.80 L593.30,541.80 L593.79,541.80 L594.29,541.80 L594.79,541.80 L595.29,541.80 L595.79,541.80 L596.29,541.80 L596.78,541.80 L597.28,541.80 L597.78,541.80 L598.28,541.80 L598.78,541.80 L599.27,541.80 L599.77,541.80 L600.27,541.80 L600.77,541.80 L601.27,541.80 L601.77,541.80 L602.26,541.80 L602.76,541.80 L603.26,541.80 L603.76,541.80 L604.26,541.80 L604.76,541.80 L605.25,541.80 L605.75,541.80 L606.25,541.80 L606.75,541.80 L607.25,541.80 L607.74,541.80 L608.24,541.80 L608.74,541.80 L609.24,541.80 L609.74,541.80 L610.24,541.80 L610.73,541.80 L611.23,541.80 L611.73,541.80 L612.23,541.80 L612.73,541.80 L613.23,541.80 L613.72,541.80 L614.22,541.80 L614.72,541.80 L615.22,541.80 L615.72,541.80 L616.22,541.80 L616.71,541.80 L617.21,541.80 L617.71,541.80 L618.21,541.80 L618.71,541.80 L619.20,541.80 L619.70,541.80 L620.20,541.80 L620.70,541.80 L621.20,541.80 L621.70,541.80 L622.19,541.80 L622.69,541.80 L623.19,541.80 L623.69,541.80 L624.19,541.80 L624.69,541.80 L625.18,541.80 L625.68,541.80 L626.18,541.80 L626.68,541.80 L627.18,541.80 L627.67,541.80 L628.17,541.80 L628.67,541.80 L629.17,541.80 L629.67,541.80 L630.17,541.80 L630.66,541.80 L631.16,541.80 L631.66,541.80 L632.16,541.80 L632.66,541.80 L633.16,541.80 L633.65,541.80 L634.15,541.80 L634.65,541.80 L635.15,541.80 L635.65,541.80 L636.15,541.80 L636.64,541.80 L637.14,541.80 L637.64,541.80 L638.14,541.80 L638.64,541.80 L639.13,541.80 L639.63,541.80 L640.13,541.80 L640.63,541.80 L641.13,541.80 L641.63,541.80 L642.12,541.80 L642.62,541.80 L643.12,541.80 L643.62,541.80 L644.12,541.80 L644.62,541.80 L645.11,541.80 L645.61,541.80 L646.11,541.80 L646.61,541.80 L647.11,541.80 L647.60,541.80 L648.10,541.80 L648.60,541.80 L649.10,541.80 L649.60,541.80 L650.10,541.80 L650.59,541.80 L651.09,541.80 L651.59,541.80 L652.09,541.80 L652.59,541.80 L653.09,541.80 L653.58,541.80 L654.08,541.80 L654.58,541.80 L655.08,541.80 L655.58,541.80 L656.08,541.80" stroke="#000080" stroke-width="3.60" stroke-dasharray="8.65 8.65"/>
<path d="M157.83,541.80 L158.32,541.80 L158.82,541.80 L159.32,541.80 L159.82,541.80 L160.32,541.80 L160.81,541.80 L161.31,541.80 L161.81,541.80 L162.31,541.80 L162.81,541.80 L163.31,541.80 L163.80,541.80 L164.30,541.80 L164.80,541.80 L165.30,541.80 L165.80,541.80 L166.30,541.80 L166.79,541.80 L167.29,541.80 L167.79,541.80 L168.29,541.80 L168.79,541.80 L169.28,541.80 L169.78,541.80 L170.28,541.80 L170.78,541.80 L171.28,541.80 L171.78,541.80 L172.27,541.80 L172.77,541.80 L173.27,541.80 L173.77,541.80 L174.27,541.80 L174.77,541.80 L175.26,541.80 L175.76,541.80 L176.26,541.80 L176.76,541.80 L177.26,541.80 L177.76,541.80 L178.25,541.80 L178.75,541.80 L179.25,541.80 L179.75,541.80 L180.25,541.80 L180.74,541.80 L181.24,541.80 L181.74,541.80 L182.24,541.80 L182.74,541.80 L183.24,541.80 L183.73,541.80 L184.23,541.80 L184.73,541.80 L185.23,541.80 L185.73,541.80 L186.23,541.80 L186.72,541.80 L187.22,541.80 L187.72,541.80 L188.22,541.80 L188.72,541.80 L189.21,541.80 L189.71,541.80 L190.21,541.80 L190.71,541.80 L191.21,541.80 L191.71,541.80 L192.20,541.80 L192.70,541.80 L193.20,541.80 L193.70,541.80 L194.20,541.80 L194.70,541.80 L195.19,541.80 L195.69,541.80 L196.19,541.80 L196.69,541.80 L197.19,541.80 L197.69,541.80 L198.18,541.80 L198.68,541.80 L199.18,541.80 L199.68,541.80 L200.18,541.80 L200.67,541.80 L201.17,541.80 L201.67,541.80 L202.17,541.80 L202.67,541.80 L203.17,541.80 L203.66,541.80 L204.16,541.80 L204.66,541.80 L205.16,541.80 L205.66,541.80 L206.16,541.80 L206.65,541.80 L207.15,541.80 L207.65,541.80 L208.15,541.80 L208.65,541.80 L209.14,541.80 L209.64,541.80 L210.14,541.80 L210.64,541.80 L211.14,541.80 L211.64,541.80 L212.13,541.80 L212.63,541.80 L213.13,541.80 L213.63,541.80 L214.13,541.80 L214.63,541.80 L215.12,541.80 L215.62,541.80 L216.12,541.80 L216.62,541.80 L217.12,541.80 L217.62,541.80 L218.11,541.80 L218.61,541.80 L219.11,541.80 L219.61,541.80 L220.11,541.80 L220.60,541.80 L221.10,541.80 L221.60,541.80 L222.10,541.80 L222.60,541.80 L223.10,541.80 L223.59,541.80 L224.09,541.80 L224.59,541.80 L225.09,541.80 L225.59,541.80 L226.09,541.80 L226.58,541.80 L227.08,541.80 L227.58,541.80 L228.08,541.80 L228.58,541.80 L229.07,541.80 L229.57,541.80 L230.07,541.80 L230.57,541.80 L231.07,541.80 L231.57,541.80 L232.06,541.80 L232.56,541.80 L233.06,541.80 L233.56,541.80 L234.06,541.80 L234.56,541.80 L235.05,541.80 L235.55,541.80 L236.05,541.80 L236.55,541.80 L237.05,541.80 L237.55,541.80 L238.04,541.80 L238.54,541.80 L239.04,541.80 L239.54,541.80 L240.04,541.80 L240.53,541.80 L241.03,541.80 L241.53,541.80 L242.03,541.80 L242.53,541.80 L243.03,541.80 L243.52,541.80 L244.02,541.80 L244.52,541.80 L245.02,541.80 L245.52,541.80 L246.02,541.80 L246.51,541.80 L247.01,541.80 L247.51,541.80 L248.01,541.80 L248.51,541.80 L249.00,541.80 L249.50,541.80 L250.00,541.80 L250.50,541.80 L251.00,541.80 L251.50,541.80 L251.99,541.80 L252.49,541.80 L252.99,541.80 L253.49,541.80 L253.99,541.80 L254.49,541.80 L254.98,541.80 L255.48,541.80 L255.98,541.80 L256.48,541.80 L256.98,541.80 L257.48,541.80 L257.97,541.80 L258.47,541.80 L258.97,541.80 L259.47,541.80 L259.97,541.80 L260.46,541.80 L260.96,541.80 L261.46,541.80 L261.96,541.80 L262.46,541.80 L262.96,541.80 L263.45,541.80 L263.95,541.80 L264.45,541.80 L264.95,541.80 L265.45,541.80 L265.95,541.80 L266.44,541.80 L266.94,541.80 L267.44,541.80 L267.94,541.80 L268.44,541.80 L268.93,541.80 L269.43,541.80 L269.93,541.80 L270.43,541.80 L270.93,541.80 L271.43,541.80 L271.92,541.80 L272.42,541.80 L272.92,541.80 L273.42,541.80 L273.92,541.80 L274.42,541.80 L274.91,541.80 L275.41,541.80 L275.91,541.80 L276.41,541.80 L276.91,541.80 L277.41,541.80 L277.90,541.80 L278.40,541.80 L278.90,541.80 L279.40,541.80 L279.90,541.80 L280.39,541.80 L280.89,541.80 L281.39,541.80 L281.89,541.80 L282.39,541.80 L282.89,541.80 L283.38,541.80 L283.88,541.80 L284.38,541.80 L284.88,541.80 L285.38,541.80 L285.88,541.80 L286.37,541.80 L286.87,541.80 L287.37,541.80 L287.87,541.80 L288.37,541.80 L288.86,541.80 L289.36,541.80 L289.86,541.80 L290.36,541.80 L290.86,541.80 L291.36,541.80 L291.85,541.80 L292.35,541.80 L292.85,541.80 L293.35,541.80 L293.85,541.80 L294.35,541.80 L294.84,541.80 L295.34,541.80 L295.84,541.80 L296.34,541.80 L296.84,541.80 L297.34,541.80 L297.83,541.80 L298.33,541.80 L298.83,541.80 L299.33,541.80 L299.83,541.80 L300.32,541.80 L300.82,541.80 L301.32,541.80 L301.82,541.80 L302.32,541.80 L302.82,541.80 L303.31,541.80 L303.81,541.80 L304.31,541.80 L304.81,541.80 L305.31,541.80 L305.81,541.80 L306.30,541.80 L306.80,541.80 L307.30,541.80 L307.80,541.80 L308.30,541.79 L308.79,541.79 L309.29,541.79 L309.79,541.79 L310.29,541.79 L310.79,541.79 L311.29,541.79 L311.78,541.79 L312.28,541.79 L312.78,541.78 L313.28,541.78 L313.78,541.78 L314.28,541.78 L314.77,541.78 L315.27,541.77 L315.77,541.77 L316.27,541.77 L316.77,541.76 L317.27,541.76 L317.76,541.76 L318.26,541.75 L318.76,541.75 L319.26,541.74 L319.76,541.73 L320.25,541.73 L320.75,541.72 L321.25,541.71 L321.75,541.70 L322.25,541.69 L322.75,541.68 L323.24,541.67 L323.74,541.66 L324.24,541.64 L324.74,541.63 L325.24,541.61 L325.74,541.59 L326.23,541.57 L326.73,541.55 L327.23,541.52 L327.73,541.50 L328.23,541.47 L328.72,541.44 L329.22,541.40 L329.72,541.36 L330.22,541.32 L330.72,541.28 L331.22,541.23 L331.71,541.18 L332.21,541.12 L332.71,541.06 L333.21,541.00 L333.71,540.93 L334.21,540.85 L334.70,540.77 L335.20,540.68 L335.70,540.58 L336.20,540.47 L336.70,540.36 L337.20,540.24 L337.69,540.11 L338.19,539.97 L338.69,539.82 L339.19,539.66 L339.69,539.48 L340.18,539.30 L340.68,539.10 L341.18,538.88 L341.68,538.65 L342.18,538.41 L342.68,538.14 L343.17,537.86 L343.67,537.56 L344.17,537.24 L344.67,536.90 L345.17,536.54 L345.67,536.15 L346.16,535.73 L346.66,535.29 L347.16,534.83 L347.66,534.33 L348.16,533.80 L348.65,533.24 L349.15,532.65 L349.65,532.02 L350.15,531.35 L350.65,530.65 L351.15,529.90 L351.64,529.11 L352.14,528.28 L352.64,527.40 L353.14,526.47 L353.64,525.49 L354.14,524.46 L354.63,523.37 L355.13,522.22 L355.63,521.02 L356.13,519.76 L356.63,518.43 L357.13,517.04 L357.62,515.58 L358.12,514.05 L358.62,512.44 L359.12,510.77 L359.62,509.01 L360.11,507.18 L360.61,505.26 L361.11,503.26 L361.61,501.18 L362.11,499.00 L362.61,496.74 L363.10,494.38 L363.60,491.93 L364.10,489.38 L364.60,486.74 L365.10,483.99 L365.60,481.14 L366.09,478.19 L366.59,475.13 L367.09,471.97 L367.59,468.70 L368.09,465.32 L368.58,461.82 L369.08,458.22 L369.58,454.51 L370.08,450.68 L370.58,446.74 L371.08,442.69 L371.57,438.52 L372.07,434.24 L372.57,429.84 L373.07,425.34 L373.57,420.72 L374.07,415.99 L374.56,411.16 L375.06,406.21 L375.56,401.16 L376.06,396.01 L376.56,390.75 L377.06,385.39 L377.55,379.94 L378.05,374.39 L378.55,368.75 L379.05,363.03 L379.55,357.22 L380.04,351.34 L380.54,345.38 L381.04,339.34 L381.54,333.25 L382.04,327.09 L382.54,320.88 L383.03,314.63 L383.53,308.32 L384.03,301.99 L384.53,295.62 L385.03,289.23 L385.53,282.82 L386.02,276.40 L386.52,269.98 L387.02,263.56 L387.52,257.16 L388.02,250.78 L388.51,244.42 L389.01,238.11 L389.51,231.83 L390.01,225.61 L390.51,219.45 L391.01,213.36 L391.50,207.34 L392.00,201.42 L392.50,195.58 L393.00,189.85 L393.50,184.23 L394.00,178.73 L394.49,173.36 L394.99,168.13 L395.49,163.03 L395.99,158.09 L396.49,153.31 L396.99,148.70 L397.48,144.26 L397.98,140.00 L398.48,135.93 L398.98,132.05 L399.48,128.38 L399.97,124.91 L400.47,121.66 L400.97,118.62 L401.47,115.81 L401.97,113.22 L402.47,110.87 L402.96,108.76 L403.46,106.88 L403.96,105.25 L404.46,103.86 L404.96,102.73 L405.46,101.84 L405.95,101.21 L406.45,100.83 L406.95,100.70 L407.45,100.83 L407.95,101.21 L408.44,101.84 L408.94,102.73 L409.44,103.86 L409.94,105.25 L410.44,106.88 L410.94,108.76 L411.43,110.87 L411.93,113.22 L412.43,115.81 L412.93,118.62 L413.43,121.66 L413.93,124.91 L414.42,128.38 L414.92,132.05 L415.42,135.93 L415.92,140.00 L416.42,144.26 L416.92,148.70 L417.41,153.31 L417.91,158.09 L418.41,163.03 L418.91,168.13 L419.41,173.36 L419.90,178.73 L420.40,184.23 L420.90,189.85 L421.40,195.58 L421.90,201.42 L422.40,207.34 L422.89,213.36 L423.39,219.45 L423.89,225.61 L424.39,231.83 L424.89,238.11 L425.39,244.42 L425.88,250.78 L426.38,257.16 L426.88,263.56 L427.38,269.98 L427.88,276.40 L428.37,282.82 L428.87,289.23 L429.37,295.62 L429.87,301.99 L430.37,308.32 L430.87,314.63 L431.36,320.88 L431.86,327.09 L432.36,333.25 L432.86,339.34 L433.36,345.38 L433.86,351.34 L434.35,357.22 L434.85,363.03 L435.35,368.75 L435.85,374.39 L436.35,379.94 L436.85,385.39 L437.34,390.75 L437.84,396.01 L438.34,401.16 L438.84,406.21 L439.34,411.16 L439.83,415.99 L440.33,420.72 L440.83,425.34 L441.33,429.84 L441.83,434.24 L442.33,438.52 L442.82,442.69 L443.32,446.74 L443.82,450.68 L444.32,454.51 L444.82,458.22 L445.32,461.82 L445.81,465.32 L446.31,468.70 L446.81,471.97 L447.31,475.13 L447.81,478.19 L448.30,481.14 L448.80,483.99 L449.30,486.74 L449.80,489.38 L450.30,491.93 L450.80,494.38 L451.29,496.74 L451.79,499.00 L452.29,501.18 L452.79,503.26 L453.29,505.26 L453.79,507.18 L454.28,509.01 L454.78,510.77 L455.28,512.44 L455.78,514.05 L456.28,515.58 L456.78,517.04 L457.27,518.43 L457.77,519.76 L458.27,521.02 L458.77,522.22 L459.27,523.37 L459.76,524.46 L460.26,525.49 L460.76,526.47 L461.26,527.40 L461.76,528.28 L462.26,529.11 L462.75,529.90 L463.25,530.65 L463.75,531.35 L464.25,532.02 L464.75,532.65 L465.25,533.24 L465.74,533.80 L466.24,534.33 L466.74,534.83 L467.24,535.29 L467.74,535.73 L468.23,536.15 L468.73,536.54 L469.23,536.90 L469.73,537.24 L470.23,537.56 L470.73,537.86 L471.22,538.14 L471.72,538.41 L472.22,538.65 L472.72,538.88 L473.22,539.10 L473.72,539.30 L474.21,539.48 L474.71,539.66 L475.21,539.82 L475.71,539.97 L476.21,540.11 L476.71,540.24 L477.20,540.36 L477.70,540.47 L478.20,540.58 L478.70,540.68 L479.20,540.77 L479.69,540.85 L480.19,540.93 L480.69,541.00 L481.19,541.06 L481.69,541.12 L482.19,541.18 L482.68,541.23 L483.18,541.28 L483.68,541.32 L484.18,541.36 L484.68,541.40 L485.18,541.44 L485.67,541.47 L486.17,541.50 L486.67,541.52 L487.17,541.55 L487.67,541.57 L488.16,541.59 L488.66,541.61 L489.16,541.63 L489.66,541.64 L490.16,541.66 L490.66,541.67 L491.15,541.68 L491.65,541.69 L492.15,541.70 L492.65,541.71 L493.15,541.72 L493.65,541.73 L494.14,541.73 L494.64,541.74 L495.14,541.75 L495.64,541.75 L496.14,541.76 L496.64,541.76 L497.13,541.76 L497.63,541.77 L498.13,541.77 L498.63,541.77 L499.13,541.78 L499.62,541.78 L500.12,541.78 L500.62,541.78 L501.12,541.78 L501.62,541.79 L502.12,541.79 L502.61,541.79 L503.11,541.79 L503.61,541.79 L504.11,541.79 L504.61,541.79 L505.11,541.79 L505.60,541.79 L506.10,541.80 L506.60,541.80 L507.10,541.80 L507.60,541.80 L508.09,541.80 L508.59,541.80 L509.09,541.80 L509.59,541.80 L510.09,541.80 L510.59,541.80 L511.08,541.80 L511.58,541.80 L512.08,541.80 L512.58,541.80 L513.08,541.80 L513.58,541.80 L514.07,541.80 L514.57,541.80 L515.07,541.80 L515.57,541.80 L516.07,541.80 L516.57,541.80 L517.06,541.80 L517.56,541.80 L518.06,541.80 L518.56,541.80 L519.06,541.80 L519.55,541.80 L520.05,541.80 L520.55,541.80 L521.05,541.80 L521.55,541.80 L522.05,541.80 L522.54,541.80 L523.04,541.80 L523.54,541.80 L524.04,541.80 L524.54,541.80 L525.04,541.80 L525.53,541.80 L526.03,541.80 L526.53,541.80 L527.03,541.80 L527.53,541.80 L528.02,541.80 L528.52,541.80 L529.02,541.80 L529.52,541.80 L530.02,541.80 L530.52,541.80 L531.01,541.80 L531.51,541.80 L532.01,541.80 L532.51,541.80 L533.01,541.80 L533.51,541.80 L534.00,541.80 L534.50,541.80 L535.00,541.80 L535.50,541.80 L536.00,541.80 L536.50,541.80 L536.99,541.80 L537.49,541.80 L537.99,541.80 L538.49,541.80 L538.99,541.80 L539.48,541.80 L539.98,541.80 L540.48,541.80 L540.98,541.80 L541.48,541.80 L541.98,541.80 L542.47,541.80 L542.97,541.80 L543.47,541.80 L543.97,541.80 L544.47,541.80 L544.97,541.80 L545.46,541.80 L545.96,541.80 L546.46,541.80 L546.96,541.80 L547.46,541.80 L547.95,541.80 L548.45,541.80 L548.95,541.80 L549.45,541.80 L549.95,541.80 L550.45,541.80 L550.94,541.80 L551.44,541.80 L551.94,541.80 L552.44,541.80 L552.94,541.80 L553.44,541.80 L553.93,541.80 L554.43,541.80 L554.93,541.80 L555.43,541.80 L555.93,541.80 L556.43,541.80 L556.92,541.80 L557.42,541.80 L557.92,541.80 L558.42,541.80 L558.92,541.80 L559.41,541.80 L559.91,541.80 L560.41,541.80 L560.91,541.80 L561.41,541.80 L561.91,541.80 L562.40,541.80 L562.90,541.80 L563.40,541.80 L563.90,541.80 L564.40,541.80 L564.90,541.80 L565.39,541.80 L565.89,541.80 L566.39,541.80 L566.89,541.80 L567.39,541.80 L567.88,541.80 L568.38,541.80 L568.88,541.80 L569.38,541.80 L569.88,541.80 L570.38,541.80 L570.87,541.80 L571.37,541.80 L571.87,541.80 L572.37,541.80 L572.87,541.80 L573.37,541.80 L573.86,541.80 L574.36,541.80 L574.86,541.80 L575.36,541.80 L575.86,541.80 L576.36,541.80 L576.85,541.80 L577.35,541.80 L577.85,541.80 L578.35,541.80 L578.85,541.80 L579.34,541.80 L579.84,541.80 L580.34,541.80 L580.84,541.80 L581.34,541.80 L581.84,541.80 L582.33,541.80 L582.83,541.80 L583.33,541.80 L583.83,541.80 L584.33,541.80 L584.83,541.80 L585.32,541.80 L585.82,541.80 L586.32,541.80 L586.82,541.80 L587.32,541.80 L587.81,541.80 L588.31,541.80 L588.81,541.80 L589.31,541.80 L589.81,541.80 L590.31,541.80 L590.80,541.80 L591.30,541.80 L591.80,541.80 L592.30,541.80 L592.80,541.80 L593.30,541.80 L593.79,541.80 L594.29,541.80 L594.79,541.80 L595.29,541.80 L595.79,541.80 L596.29,541.80 L596.78,541.80 L597.28,541.80 L597.78,541.80 L598.28,541.80 L598.78,541.80 L599.27,541.80 L599.77,541.80 L600.27,541.80 L600.77,541.80 L601.27,541.80 L601.77,541.80 L602.26,541.80 L602.76,541.80 L603.26,541.80 L603.76,541.80 L604.26,541.80 L604.76,541.80 L605.25,541.80 L605.75,541.80 L606.25,541.80 L606.75,541.80 L607.25,541.80 L607.74,541.80 L608.24,541.80 L608.74,541.80 L609.24,541.80 L609.74,541.80 L610.24,541.80 L610.73,541.80 L611.23,541.80 L611.73,541.80 L612.23,541.80 L612.73,541.80 L613.23,541.80 L613.72,541.80 L614.22,541.80 L614.72,541.80 L615.22,541.80 L615.72,541.80 L616.22,541.80 L616.71,541.80 L617.21,541.80 L617.71,541.80 L618.21,541.80 L618.71,541.80 L619.20,541.80 L619.70,541.80 L620.20,541.80 L620.70,541.80 L621.20,541.80 L621.70,541.80 L622.19,541.80 L622.69,541.80 L623.19,541.80 L623.69,541.80 L624.19,541.80 L624.69,541.80 L625.18,541.80 L625.68,541.80 L626.18,541.80 L626.68,541.80 L627.18,541.80 L627.67,541.80 L628.17,541.80 L628.67,541.80 L629.17,541.80 L629.67,541.80 L630.17,541.80 L630.66,541.80 L631.16,541.80 L631.66,541.80 L632.16,541.80 L632.66,541.80 L633.16,541.80 L633.65,541.80 L634.15,541.80 L634.65,541.80 L635.15,541.80 L635.65,541.80 L636.15,541.80 L636.64,541.80 L637.14,541.80 L637.64,541.80 L638.14,541.80 L638.64,541.80 L639.13,541.80 L639.63,541.80 L640.13,541.80 L640.63,541.80 L641.13,541.80 L641.63,541.80 L642.12,541.80 L642.62,541.80 L643.12,541.80 L643.62,541.80 L644.12,541.80 L644.62,541.80 L645.11,541.80 L645.61,541.80 L646.11,541.80 L646.61,541.80 L647.11,541.80 L647.60,541.80 L648.10,541.80 L648.60,541.80 L649.10,541.80 L649.60,541.80 L650.10,541.80 L650.59,541.80 L651.09,541.80 L651.59,541.80 L652.09,541.80 L652.59,541.80 L653.09,541.80 L653.58,541.80 L654.08,541.80 L654.58,541.80 L655.08,541.80 L655.58,541.80 L656.08,541.80" stroke="#000080" stroke-width="3.60" stroke-dasharray="4.33 7.21 1.44 7.21"/>
<line x1="157.83" y1="360.70" x2="656.08" y2="153.40" stroke="#ff0000" stroke-width="3.60" stroke-linecap="square"/>
<line x1="157.83" y1="446.10" x2="656.08" y2="234.10" stroke="#ff0000" stroke-width="3.60" stroke-dasharray="8.65 8.65"/>
<line x1="157.83" y1="532.80" x2="656.08" y2="316.60" stroke="#ff0000" stroke-width="3.60" stroke-dasharray="4.33 7.21 1.44 7.21"/>
</g>
<g stroke="#000000" stroke-width="1.00" fill="none">
<line x1="108.00" y1="541.80" x2="108.00" y2="536.04"/>
<line x1="108.00" y1="93.00" x2="108.00" y2="98.76"/>
<line x1="207.65" y1="541.80" x2="207.65" y2="536.04"/>
<line x1="207.65" y1="93.00" x2="207.65" y2="98.76"/>
<line x1="307.30" y1="541.80" x2="307.30" y2="536.04"/>
<line x1="307.30" y1="93.00" x2="307.30" y2="98.76"/>
<line x1="406.95" y1="541.80" x2="406.95" y2="536.04"/>
<line x1="406.95" y1="93.00" x2="406.95" y2="98.76"/>
<line x1="506.60" y1="541.80" x2="506.60" y2="536.04"/>
<line x1="506.60" y1="93.00" x2="506.60" y2="98.76"/>
<line x1="606.25" y1="541.80" x2="606.25" y2="536.04"/>
<line x1="606.25" y1="93.00" x2="606.25" y2="98.76"/>
<line x1="705.90" y1="541.80" x2="705.90" y2="536.04"/>
<line x1="705.90" y1="93.00" x2="705.90" y2="98.76"/>
<line x1="108.00" y1="541.80" x2="113.76" y2="541.80"/>
<line x1="108.00" y1="452.04" x2="113.76" y2="452.04"/>
<line x1="108.00" y1="362.28" x2="113.76" y2="362.28"/>
<line x1="108.00" y1="272.52" x2="113.76" y2="272.52"/>
<line x1="108.00" y1="182.76" x2="113.76" y2="182.76"/>
<line x1="108.00" y1="93.00" x2="113.76" y2="93.00"/>
<line x1="705.90" y1="541.80" x2="700.14" y2="541.80"/>
<line x1="705.90" y1="519.28" x2="703.02" y2="519.28"/>
<line x1="705.90" y1="506.11" x2="703.02" y2="506.11"/>
<line x1="705.90" y1="496.77" x2="703.02" y2="496.77"/>
<line x1="705.90" y1="489.52" x2="703.02" y2="489.52"/>
<line x1="705.90" y1="483.59" x2="703.02" y2="483.59"/>
<line x1="705.90" y1="478.59" x2="703.02" y2="478.59"/>
<line x1="705.90" y1="474.25" x2="703.02" y2="474.25"/>
<line x1="705.90" y1="470.42" x2="703.02" y2="470.42"/>
<line x1="705.90" y1="467.00" x2="700.14" y2="467.00"/>
<line x1="705.90" y1="444.48" x2="703.02" y2="444.48"/>
<line x1="705.90" y1="431.31" x2="703.02" y2="431.31"/>
<line x1="705.90" y1="421.97" x2="703.02" y2="421.97"/>
<line x1="705.90" y1="414.72" x2="703.02" y2="414.72"/>
<line x1="705.90" y1="408.79" x2="703.02" y2="408.79"/>
<line x1="705.90" y1="403.79" x2="703.02" y2="403.79"/>
<line x1="705.90" y1="399.45" x2="703.02" y2="399.45"/>
<line x1="705.90" y1="395.62" x2="703.02" y2="395.62"/>
<line x1="705.90" y1="392.20" x2="700.14" y2="392.20"/>
<line x1="705.90" y1="369.68" x2="703.02" y2="369.68"/>
<line x1="705.90" y1="356.51" x2="703.02" y2="356.51"/>
<line x1="705.90" y1="347.17" x2="703.02" y2="347.17"/>
<line x1="705.90" y1="339.92" x2="703.02" y2="339.92"/>
<line x1="705.90" y1="333.99" x2="703.02" y2="333.99"/>
<line x1="705.90" y1="328.99" x2="703.02" y2="328.99"/>
<line x1="705.90" y1="324.65" x2="703.02" y2="324.65"/>
<line x1="705.90" y1="320.82" x2="703.02" y2="320.82"/>
<line x1="705.90" y1="317.40" x2="700.14" y2="317.40"/>
<line x1="705.90" y1="294.88" x2="703.02" y2="294.88"/>
<line x1="705.90" y1="281.71" x2="703.02" y2="281.71"/>
<line x1="705.90" y1="272.37" x2="703.02" y2="272.37"/>
<line x1="705.90" y1="265.12" x2="703.02" y2="265.12"/>
<line x1="705.90" y1="259.19" x2="703.02" y2="259.19"/>
<line x1="705.90" y1="254.19" x2="703.02" y2="254.19"/>
<line x1="705.90" y1="249.85" x2="703.02" y2="249.85"/>
<line x1="705.90" y1="246.02" x2="703.02" y2="246.02"/>
<line x1="705.90" y1="242.60" x2="700.14" y2="242.60"/>
<line x1="705.90" y1="220.08" x2="703.02" y2="220.08"/>
<line x1="705.90" y1="206.91" x2="703.02" y2="206.91"/>
<line x1="705.90" y1="197.57" x2="703.02" y2="197.57"/>
<line x1="705.90" y1="190.32" x2="703.02" y2="190.32"/>
<line x1="705.90" y1="184.39" x2="703.02" y2="184.39"/>
<line x1="705.90" y1="179.39" x2="703.02" y2="179.39"/>
<line x1="705.90" y1="175.05" x2="703.02" y2="175.05"/>
<line x1="705.90" y1="171.22" x2="703.02" y2="171.22"/>
<line x1="705.90" y1="167.80" x2="700.14" y2="167.80"/>
<line x1="705.90" y1="145.28" x2="703.02" y2="145.28"/>
<line x1="705.90" y1="132.11" x2="703.02" y2="132.11"/>
<line x1="705.90" y1="122.77" x2="703.02" y2="122.77"/>
<line x1="705.90" y1="115.52" x2="703.02" y2="115.52"/>
<line x1="705.90" y1="109.59" x2="703.02" y2="109.59"/>
<line x1="705.90" y1="104.59" x2="703.02" y2="104.59"/>
<line x1="705.90" y1="100.25" x2="703.02" y2="100.25"/>
<line x1="705.90" y1="96.42" x2="703.02" y2="96.42"/>
<line x1="705.90" y1="93.00" x2="700.14" y2="93.00"/>
</g>
<g fill="#000000">
<rect x="107.05" y="92.45" width="1.90" height="450.45"/>
<rect x="704.88" y="92.45" width="1.67" height="450.45"/>
<rect x="107.05" y="92.45" width="599.50" height="1.65"/>
<rect x="107.05" y="540.95" width="599.50" height="1.95"/>
</g>
<g font-family="'Liberation Serif', serif" style="opacity:0.999">
<text transform="translate(107.90 568.90) scale(0.9450 1)" font-size="30.80" text-anchor="middle" fill="#000000">0.94</text>
<text transform="translate(207.55 568.90) scale(0.9450 1)" font-size="30.80" text-anchor="middle" fill="#000000">0.96</text>
<text transform="translate(307.20 568.90) scale(0.9450 1)" font-size="30.80" text-anchor="middle" fill="#000000">0.98</text>
<text transform="translate(406.85 568.90) scale(0.9450 1)" font-size="30.80" text-anchor="middle" fill="#000000">1.00</text>
<text transform="translate(506.50 568.90) scale(0.9450 1)" font-size="30.80" text-anchor="middle" fill="#000000">1.02</text>
<text transform="translate(606.15 568.90) scale(0.9450 1)" font-size="30.80" text-anchor="middle" fill="#000000">1.04</text>
<text transform="translate(705.80 568.90) scale(0.9450 1)" font-size="30.80" text-anchor="middle" fill="#000000">1.06</text>
<text transform="translate(102.30 548.70) scale(0.9450 1)" font-size="30.80" text-anchor="end" fill="#000080">0.00</text>
<text transform="translate(102.30 458.94) scale(0.9450 1)" font-size="30.80" text-anchor="end" fill="#000080">0.05</text>
<text transform="translate(102.30 369.18) scale(0.9450 1)" font-size="30.80" text-anchor="end" fill="#000080">0.10</text>
<text transform="translate(102.30 279.42) scale(0.9450 1)" font-size="30.80" text-anchor="end" fill="#000080">0.15</text>
<text transform="translate(102.30 189.66) scale(0.9450 1)" font-size="30.80" text-anchor="end" fill="#000080">0.20</text>
<text transform="translate(102.30 99.90) scale(0.9450 1)" font-size="30.80" text-anchor="end" fill="#000080">0.25</text>
<text transform="translate(710.50 548.60)" font-size="30.80" text-anchor="start" fill="#ff0000">10</text>
<rect x="741.90" y="531.55" width="14.10" height="1.10" fill="#ff0000"/>
<text transform="translate(758.00 538.10)" font-size="22.60" text-anchor="start" fill="#ff0000">60</text>
<text transform="translate(710.50 473.80)" font-size="30.80" text-anchor="start" fill="#ff0000">10</text>
<rect x="741.90" y="456.75" width="14.10" height="1.10" fill="#ff0000"/>
<text transform="translate(758.00 463.30)" font-size="22.60" text-anchor="start" fill="#ff0000">59</text>
<text transform="translate(710.50 399.00)" font-size="30.80" text-anchor="start" fill="#ff0000">10</text>
<rect x="741.90" y="381.95" width="14.10" height="1.10" fill="#ff0000"/>
<text transform="translate(758.00 388.50)" font-size="22.60" text-anchor="start" fill="#ff0000">58</text>
<text transform="translate(710.50 324.20)" font-size="30.80" text-anchor="start" fill="#ff0000">10</text>
<rect x="741.90" y="307.15" width="14.10" height="1.10" fill="#ff0000"/>
<text transform="translate(758.00 313.70)" font-size="22.60" text-anchor="start" fill="#ff0000">57</text>
<text transform="translate(710.50 249.40)" font-size="30.80" text-anchor="start" fill="#ff0000">10</text>
<rect x="741.90" y="232.35" width="14.10" height="1.10" fill="#ff0000"/>
<text transform="translate(758.00 238.90)" font-size="22.60" text-anchor="start" fill="#ff0000">56</text>
<text transform="translate(710.50 174.60)" font-size="30.80" text-anchor="start" fill="#ff0000">10</text>
<rect x="741.90" y="157.55" width="14.10" height="1.10" fill="#ff0000"/>
<text transform="translate(758.00 164.10)" font-size="22.60" text-anchor="start" fill="#ff0000">55</text>
<text transform="translate(710.50 99.80)" font-size="30.80" text-anchor="start" fill="#ff0000">10</text>
<rect x="741.90" y="82.75" width="14.10" height="1.10" fill="#ff0000"/>
<text transform="translate(758.00 89.30)" font-size="22.60" text-anchor="start" fill="#ff0000">54</text>
<text transform="translate(406.60 47.00) scale(1.0800 1)" font-size="17.60" text-anchor="middle" fill="#000000">Mass</text>
<text transform="translate(171.60 72.55) scale(1.0500 1)" font-size="17.90" text-anchor="middle" fill="#000000">25</text>
<text transform="translate(272.00 72.55) scale(1.0500 1)" font-size="17.90" text-anchor="middle" fill="#000000">40</text>
<text transform="translate(372.30 72.55) scale(1.0500 1)" font-size="17.90" text-anchor="middle" fill="#000000">60</text>
<text transform="translate(468.15 72.55) scale(1.0500 1)" font-size="17.90" text-anchor="middle" fill="#000000">1</text>
<text transform="translate(570.30 72.55)" font-size="17.90" text-anchor="middle" fill="#000000">1.01</text>
<text transform="translate(684.40 72.55)" font-size="17.90" text-anchor="middle" fill="#000000">1.02</text>
<text transform="translate(29.60 412.70) rotate(-90) scale(1.0100 1)" font-size="31.40" text-anchor="start" fill="#000080">Right moving</text>
<text transform="translate(807.90 403.30) rotate(-90)" font-size="31.20" text-anchor="start" fill="#ff0000">Left moving</text>
<text transform="translate(408.30 587.50)" font-size="28.60" text-anchor="middle" fill="#000000" font-style="italic">r</text>
<rect x="387.35" y="591.2" width="41.95" height="1.9" fill="#000000"/>
<text transform="translate(394.65 614.00) scale(0.9500 1)" font-size="28.40" text-anchor="middle" fill="#000000">2</text>
<text transform="translate(415.70 614.00) scale(1.0200 1)" font-size="28.40" text-anchor="middle" fill="#000000" font-style="italic">M</text>
</g>
<rect x="117.90" y="64.92" width="28.15" height="3.60" fill="#000080"/>
<rect x="219.90" y="64.92" width="9.10" height="3.60" fill="#000080"/>
<rect x="237.00" y="64.92" width="7.70" height="3.60" fill="#000080"/>
<rect x="319.90" y="64.92" width="4.80" height="3.60" fill="#000080"/>
<rect x="331.60" y="64.92" width="1.80" height="3.60" fill="#000080"/>
<rect x="340.20" y="64.92" width="4.80" height="3.60" fill="#000080"/>
<rect x="418.90" y="64.92" width="28.00" height="3.60" fill="#ff0000"/>
<rect x="511.80" y="64.92" width="9.30" height="3.60" fill="#ff0000"/>
<rect x="529.30" y="64.92" width="7.70" height="3.60" fill="#ff0000"/>
<rect x="625.30" y="64.92" width="4.60" height="3.60" fill="#ff0000"/>
<rect x="636.90" y="64.92" width="1.80" height="3.60" fill="#ff0000"/>
<rect x="645.50" y="64.92" width="4.50" height="3.60" fill="#ff0000"/>
</svg>
</body>
</html>
